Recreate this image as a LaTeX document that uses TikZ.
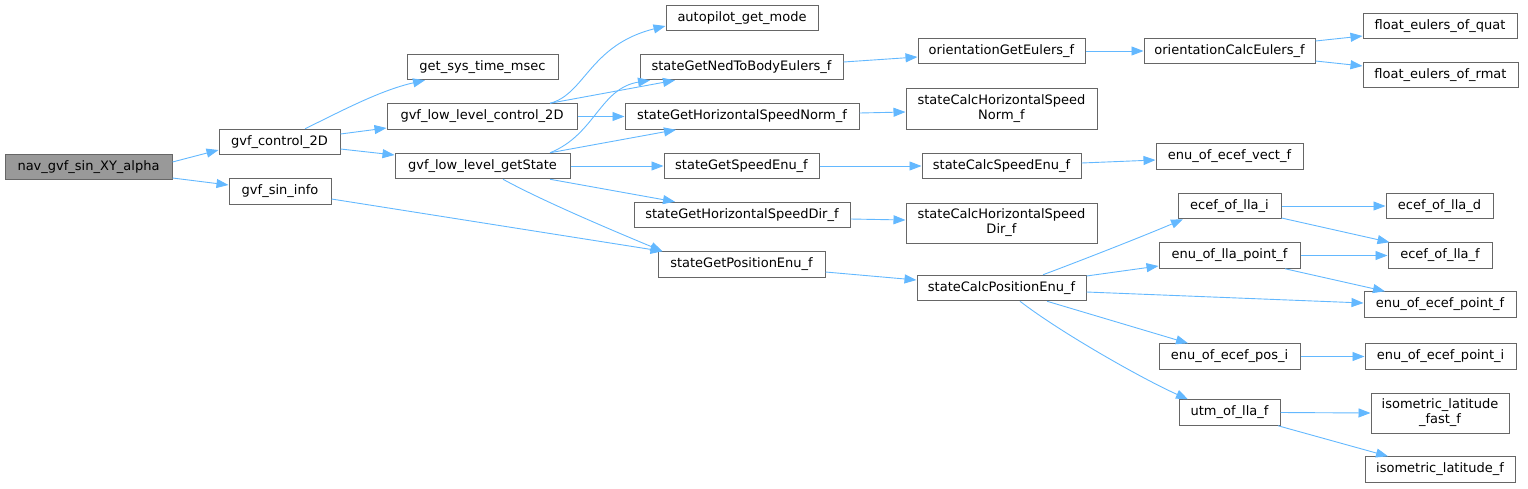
\documentclass[tikz,border=0pt]{standalone}
\usepackage{fontspec}
\setmainfont{DejaVu Sans}
\usetikzlibrary{arrows.meta}
\definecolor{edgec}{HTML}{63B8FF}
\definecolor{boxc}{HTML}{666666}
\definecolor{rootc}{HTML}{999999}
\begin{document}
\begin{tikzpicture}[x=1pt,y=-1pt,
  box/.style={draw=boxc, line width=1pt, fill=white, inner sep=0pt, minimum height=25.5pt,
    align=center, font=\fontsize{13}{15}\selectfont, text=black},
  edge/.style={draw=edgec, line width=0.9pt, -{Triangle[length=12pt,width=9pt]}}]
\useasboundingbox (0,0) rectangle (1528,488);
% nodes
\node[box, fill=rootc, minimum width=167pt] (nav) at (88.5,167) {nav\_gvf\_sin\_XY\_alpha};
\node[box, minimum width=121pt] (ctrl) at (279.5,142) {gvf\_control\_2D};
\node[box, minimum width=102pt] (sininfo) at (280,191.5) {gvf\_sin\_info};
\node[box, minimum width=151pt] (systime) at (482.5,67) {get\_sys\_time\_msec};
\node[box, minimum width=190pt] (llctrl) at (482,116.5) {gvf\_low\_level\_control\_2D};
\node[box, minimum width=175pt] (llstate) at (482.5,166) {gvf\_low\_level\_getState};
\node[box, minimum width=152pt] (apmode) at (742,18) {autopilot\_get\_mode};
\node[box, minimum width=203pt] (ned) at (741.5,67) {stateGetNedToBodyEulers\_f};
\node[box, minimum width=234pt] (hsn) at (742,116.5) {stateGetHorizontalSpeedNorm\_f};
\node[box, minimum width=155pt] (speed) at (741.5,166) {stateGetSpeedEnu\_f};
\node[box, minimum width=216pt] (hsd) at (742,215) {stateGetHorizontalSpeedDir\_f};
\node[box, minimum width=167pt] (posenu) at (741.5,264.5) {stateGetPositionEnu\_f};
\node[box, minimum width=167pt] (oge) at (1001.5,51) {orientationGetEulers\_f};
\node[box, minimum width=191pt, minimum height=41pt] (chsn) at (1001.5,108.5) {stateCalcHorizontalSpeed\\Norm\_f};
\node[box, minimum width=159pt] (cspeed) at (1001.5,166) {stateCalcSpeedEnu\_f};
\node[box, minimum width=191pt, minimum height=40pt] (chsd) at (1001.5,223) {stateCalcHorizontalSpeed\\Dir\_f};
\node[box, minimum width=169pt] (cpos) at (1001.5,288) {stateCalcPositionEnu\_f};
\node[box, minimum width=171pt] (oce) at (1229.5,51) {orientationCalcEulers\_f};
\node[box, minimum width=154pt] (feq) at (1440,26) {float\_eulers\_of\_quat};
\node[box, minimum width=155pt] (fer) at (1440.5,75) {float\_eulers\_of\_rmat};
\node[box, minimum width=147pt] (evect) at (1229.5,156.5) {enu\_of\_ecef\_vect\_f};
\node[box, minimum width=103pt] (ellai) at (1229.5,206) {ecef\_of\_lla\_i};
\node[box, minimum width=107pt] (ellad) at (1439.5,206) {ecef\_of\_lla\_d};
\node[box, minimum width=141pt] (ellpt) at (1229.5,255.5) {enu\_of\_lla\_point\_f};
\node[box, minimum width=104pt] (ellaf) at (1440,255.5) {ecef\_of\_lla\_f};
\node[box, minimum width=152pt] (eepf) at (1440,304.5) {enu\_of\_ecef\_point\_f};
\node[box, minimum width=141pt] (eposi) at (1229.5,356.5) {enu\_of\_ecef\_pos\_i};
\node[box, minimum width=151pt] (eepi) at (1440.5,356.5) {enu\_of\_ecef\_point\_i};
\node[box, minimum width=101pt] (utm) at (1229.5,412.5) {utm\_of\_lla\_f};
\node[box, minimum width=138pt, minimum height=40pt] (isofast) at (1440,413) {isometric\_latitude\\\_fast\_f};
\node[box, minimum width=150pt] (iso) at (1440,469.5) {isometric\_latitude\_f};
% edges
\draw[edge] ([yshift=5pt]nav.east) -- ([yshift=-8pt]ctrl.west);
\draw[edge] ([yshift=-11pt]nav.east) -- ([yshift=6.5pt]sininfo.west);
\draw[edge] ([xshift=25.5pt]ctrl.north) .. controls +(35,-17) and +(-45,10) .. ([xshift=-57.5pt]systime.south);
\draw[edge] ([yshift=8pt]ctrl.east) -- ([yshift=-11.5pt]llctrl.west);
\draw[edge] ([yshift=-7pt]ctrl.east) -- ([yshift=11pt]llstate.west);
\draw[edge] ([yshift=-7.5pt]sininfo.east) -- ([xshift=5pt]posenu.north west);
\draw[edge] ([xshift=68pt]llctrl.north) .. controls +(35,-9) and +(-76,19) .. ([yshift=-8pt]apmode.west);
\draw[edge] ([xshift=68pt]llctrl.north) -- ([xshift=-66.5pt]ned.south);
\draw[edge] (llctrl.east) -- (hsn.west);
\draw[edge] ([xshift=67.5pt]llstate.north) .. controls +(45,-18) and +(-50,8) .. ([xshift=-91.5pt]ned.south);
\draw[edge] ([xshift=67.5pt]llstate.north) -- ([xshift=-66pt]hsn.south);
\draw[edge] (llstate.east) -- (speed.west);
\draw[edge] ([xshift=67.5pt]llstate.south) -- ([xshift=-67pt]hsd.north);
\draw[edge] ([xshift=20.5pt]llstate.south) .. controls +(40,22) and +(-48,-20) .. ([xshift=5pt]posenu.north west);
\draw[edge] ([yshift=5pt]ned.east) -- ([yshift=-6pt]oge.west);
\draw[edge] (oge.east) -- (oce.west);
\draw[edge] ([yshift=10pt]oce.east) -- ([yshift=-10pt]feq.west);
\draw[edge] ([yshift=-10pt]oce.east) -- ([yshift=9pt]fer.west);
\draw[edge] ([yshift=3.5pt]hsn.east) -- ([yshift=-3.5pt]chsn.west);
\draw[edge] (speed.east) -- (cspeed.west);
\draw[edge] ([yshift=3pt]cspeed.east) -- ([yshift=-3.5pt]evect.west);
\draw[edge] ([yshift=-4pt]hsd.east) -- ([yshift=3pt]chsd.west);
\draw[edge] ([yshift=-7.5pt]posenu.east) -- ([yshift=8pt]cpos.west);
\draw[edge] ([xshift=41.5pt]cpos.north) .. controls +(40,-15) and +(-40,17) .. ([xshift=-46.5pt]ellai.south);
\draw[edge] ([yshift=12pt]cpos.east) -- ([yshift=-10.5pt]ellpt.west);
\draw[edge] ([yshift=-4pt]cpos.east) -- ([yshift=1.5pt]eepf.west);
\draw[edge] ([xshift=45.5pt]cpos.south) -- ([xshift=-41.5pt]eposi.north);
\draw[edge] ([xshift=18.5pt]cpos.south) .. controls +(40,31) and +(-45,-20) .. ([xshift=-41.5pt]utm.north);
\draw[edge] (ellai.east) -- (ellad.west);
\draw[edge] ([yshift=-12pt]ellai.east) -- ([xshift=2pt]ellaf.north west);
\draw[edge] (ellpt.east) -- (ellaf.west);
\draw[edge] ([xshift=55.5pt]ellpt.south) -- ([xshift=-55pt]eepf.north);
\draw[edge] (eposi.east) -- (eepi.west);
\draw[edge] (utm.east) -- (isofast.west);
\draw[edge] ([xshift=48.5pt]utm.south) -- ([xshift=-52pt]iso.north);
\end{tikzpicture}
\end{document}
